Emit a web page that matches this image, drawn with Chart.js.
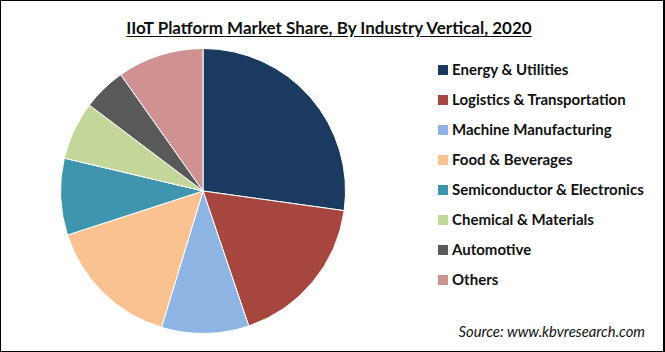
<!DOCTYPE html>
<html>
<head>
<meta charset="utf-8">
<script src="https://cdn.jsdelivr.net/npm/chart.js@4"></script>
<style>
  html, body { margin: 0; padding: 0; background: #fff; }
  #frame {
    position: relative; width: 665px; height: 352px;
    box-sizing: border-box; border: 1px solid #000; border-width: 1px 2px 1px 1px;
    overflow: hidden; font-family: Lato, "Open Sans", sans-serif;
  }
  #title {
    position: absolute; left: 0; right: 6px; top: 16px; text-align: center;
    font-weight: bold; font-size: 17px; color: #111; text-decoration: underline;
    text-underline-offset: 2px;
  }
  #pieWrap { position: absolute; left: 58px; top: 46px; width: 288px; height: 288px; }
  #legend { position: absolute; left: 437px; top: 59px; margin: 0; padding: 0; list-style: none; }
  #legend li { height: 30px; display: flex; align-items: flex-start; font-weight: bold; font-size: 15px; color: #111; }
  #legend li span.box { width: 10px; height: 10px; margin: 5px 4px 0 0; flex: none; }
  #legend li span.txt { line-height: 18px; }
  #source {
    position: absolute; right: 18px; top: 321px; font-style: italic; font-size: 14.8px; color: #111;
  }
</style>
</head>
<body>
<div id="frame">
  <div id="title">IIoT Platform Market Share, By Industry Vertical, 2020</div>
  <div id="pieWrap"><canvas id="pie"></canvas></div>
  <ul id="legend"></ul>
  <div id="source">Source: www.kbvresearch.com</div>
</div>
<script>
// 業種別シェア（%）
const categories = [
  'Energy & Utilities',
  'Logistics & Transportation',
  'Machine Manufacturing',
  'Food & Beverages',
  'Semiconductor & Electronics',
  'Chemical & Materials',
  'Automotive',
  'Others'
];
const shares = [27.2, 17.6, 9.9, 15.3, 8.7, 6.6, 4.9, 9.8];
const colors = ['#1b3a5f', '#a6463f', '#8eb4e3', '#fac191', '#3f95ad', '#c4d79b', '#595959', '#d09291'];

const chart = new Chart(document.getElementById('pie').getContext('2d'), {
  type: 'pie',
  data: {
    labels: categories,
    datasets: [{ data: shares, backgroundColor: colors, borderColor: '#ffffff', borderWidth: 1 }]
  },
  options: {
    responsive: true,
    maintainAspectRatio: false,
    animation: false,
    plugins: { legend: { display: false }, tooltip: { enabled: false } },
    layout: { padding: 1 }
  }
});

// 凡例はHTMLで描く
const legendEl = document.getElementById('legend');
legendEl.innerHTML = categories.map((c, i) =>
  `<li><span class="box" style="background:${colors[i]}"></span><span class="txt">${c.replace(/&/g, '&amp;')}</span></li>`
).join('');
</script>
</body>
</html>
